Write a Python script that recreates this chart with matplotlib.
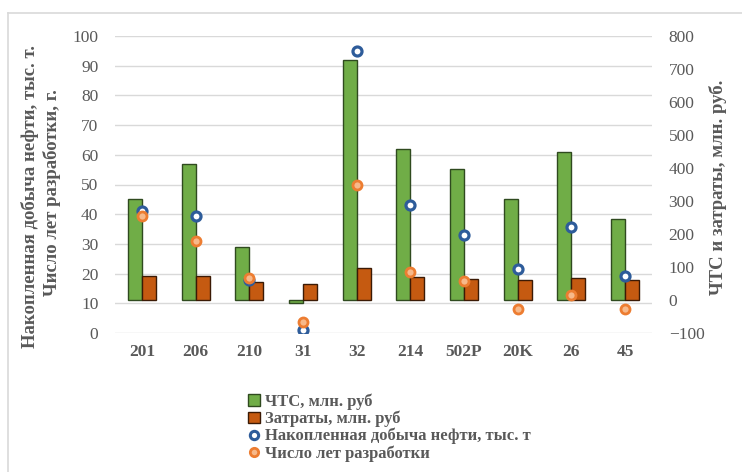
import matplotlib.pyplot as plt
import numpy as np
from matplotlib.lines import Line2D

# Wells and their economic indicators
wells = ["201", "206", "210", "31", "32", "214", "502P", "20K", "26", "45"]
npv = [306, 413, 160, -8, 726, 457, 396, 305, 450, 245]        # ЧТС, млн. руб
costs = [72, 72, 55, 49, 97, 70, 65, 60, 67, 60]               # Затраты, млн. руб
oil_cum = [41, 39.5, 18, 1, 95, 43, 33, 21.4, 35.8, 19.2]      # тыс. т
dev_years = [39.5, 31, 18.4, 3.8, 49.8, 20.6, 17.6, 8, 12.8, 8]  # лет

text_color = "#595959"
plt.rcParams["font.family"] = ["Liberation Serif", "DejaVu Serif"]

fig = plt.figure(figsize=(7.42, 4.72), dpi=100)
ax = fig.add_axes([115 / 742, 1 - 333 / 472, 537 / 742, 297 / 472])
ax2 = ax.twinx()

x = np.arange(len(wells))
w = 0.26

# bars on the right (money) axis
ax2.bar(x - w / 2, npv, w, color="#70ad47", edgecolor="#2f4a1f", linewidth=1.0,
        label="ЧТС, млн. руб", zorder=2)
ax2.bar(x + w / 2, costs, w, color="#c55a11", edgecolor="#3b1a05", linewidth=1.0,
        label="Затраты, млн. руб", zorder=2)
ax2.set_ylim(-100, 800)
ax2.set_yticks(range(-100, 801, 100))

# markers on the left axis, drawn above the bars
ax.set_zorder(ax2.get_zorder() + 1)
ax.patch.set_visible(False)
ax.plot(x, oil_cum, "o", ms=6.5, mfc="white", mec="#2e5c9a", mew=2.3, ls="none")
ax.plot(x, dev_years, "o", ms=6.5, mfc="#f7b98a", mec="#ed7d31", mew=2.0, ls="none")
ax.set_ylim(0, 100)
ax.set_yticks(range(0, 101, 10))
ax.set_xlim(-0.5, len(wells) - 0.5)
ax.set_xticks(x)
ax.set_xticklabels(wells, fontweight="bold")

ax2.grid(False)
for v in range(0, 101, 10):
    ax2.axhline(v * 9 - 100, color="#d9d9d9", lw=1.0, zorder=0)

for a in (ax, ax2):
    for s in a.spines.values():
        s.set_visible(False)
    a.tick_params(length=0, labelsize=12.5, colors=text_color)
ax.tick_params(axis="y", pad=12)
ax.tick_params(axis="x", pad=8)
ax2.tick_params(axis="y", pad=12)

label_kw = dict(rotation=90, ha="center", va="center", fontsize=13.5,
                color=text_color, fontweight="bold")
fig.text(30 / 742, 1 - 197 / 472, "Накопленная добыча нефти, тыс. т.", **label_kw)
fig.text(52 / 742, 1 - 193 / 472, "Число лет разработки, г.", **label_kw)
fig.text(718 / 742, 1 - 187 / 472, "ЧТС и затраты, млн. руб.", **label_kw)

handles = [
    plt.Rectangle((0, 0), 1, 1, fc="#70ad47", ec="#2f4a1f"),
    plt.Rectangle((0, 0), 1, 1, fc="#c55a11", ec="#3b1a05"),
    Line2D([], [], marker="o", ms=6, mfc="white", mec="#2e5c9a", mew=2.2, ls="none"),
    Line2D([], [], marker="o", ms=6, mfc="#f7b98a", mec="#ed7d31", mew=2.0, ls="none"),
]
labels = ["ЧТС, млн. руб", "Затраты, млн. руб",
          "Накопленная добыча нефти, тыс. т", "Число лет разработки"]
leg = fig.legend(handles, labels, loc="upper left",
                 bbox_to_anchor=(240 / 742, 1 - 385 / 472), frameon=False,
                 prop={"size": 12, "weight": "bold"}, labelspacing=0.05,
                 handlelength=0.7, handleheight=0.7, handletextpad=0.3,
                 borderpad=0)
for t in leg.get_texts():
    t.set_color(text_color)

# thin frame along the top and left of the chart area
fig.add_artist(Line2D([8 / 742, 1], [1 - 13 / 472] * 2, color="#d9d9d9", lw=1.2))
fig.add_artist(Line2D([8 / 742] * 2, [0, 1 - 13 / 472], color="#d9d9d9", lw=1.2))

fig.savefig("out.png", dpi=100, facecolor="white")
